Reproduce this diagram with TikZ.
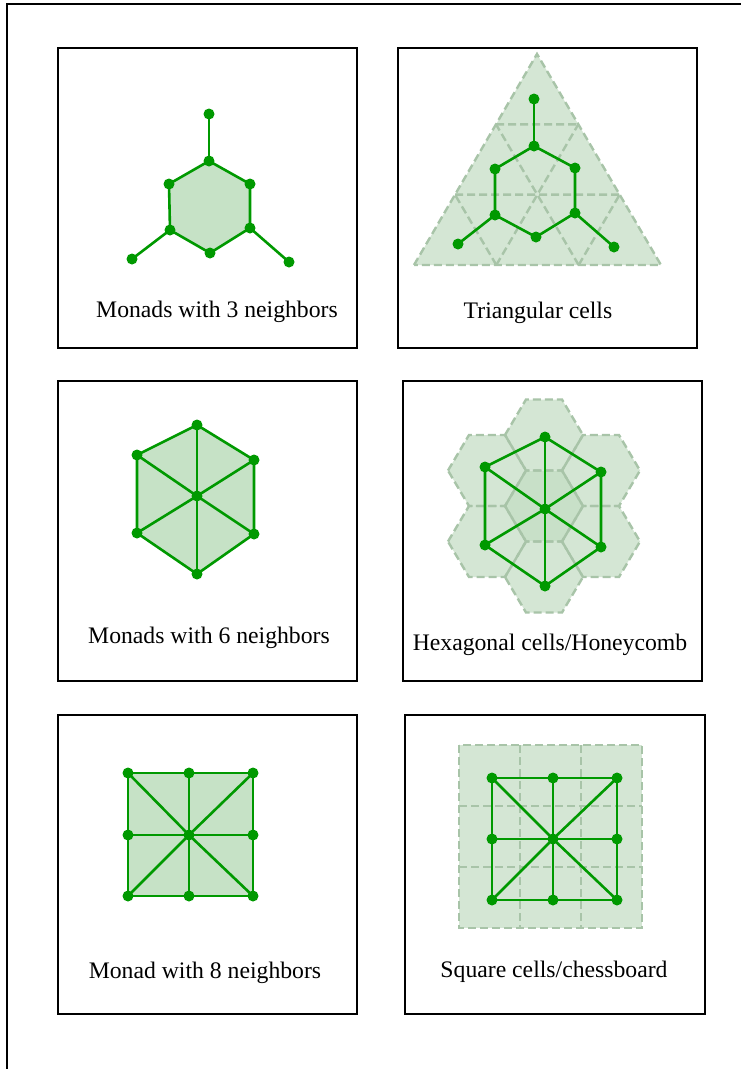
\documentclass[tikz,border=0pt]{standalone}
\usepackage{fontspec}
\setmainfont{Liberation Serif}
\usetikzlibrary{calc}
\definecolor{gline}{RGB}{0,153,0}
\definecolor{gfill}{RGB}{198,226,198}
\definecolor{cellfill}{RGB}{212,230,212}
\definecolor{cellmid}{RGB}{200,224,200}
\definecolor{celldash}{RGB}{168,196,168}
\begin{document}
\begin{tikzpicture}[x=1pt,y=-1pt,
  frame/.style={draw=black,line width=2pt},
  edge/.style={draw=gline,line width=2.6pt},
  dot/.style={circle,fill=gline,inner sep=0pt,minimum size=11pt},
  cell/.style={draw=celldash,line width=2.4pt,dash pattern=on 8pt off 4pt},
  lbl/.style={anchor=base,font=\fontsize{23.7}{28}\selectfont,inner sep=0pt}]
\useasboundingbox (0,0) rectangle (740,1069);
\fill[white] (0,0) rectangle (740,1069);
% outer frame
\draw[line width=2pt] (741,4) -- (7,4) -- (7,1070);
% boxes
\draw[frame] (58,48) rectangle (357,348);
\draw[frame] (398,48) rectangle (697,348);
\draw[frame] (58,381) rectangle (357,681);
\draw[frame] (403,381) rectangle (702,681);
\draw[frame] (58,715) rectangle (357,1014);
\draw[frame] (405,715) rectangle (705,1014);

% ---------- Box 1: monads with 3 neighbors
\coordinate (a1) at (209,161);
\coordinate (a2) at (250,184);
\coordinate (a3) at (250,228);
\coordinate (a4) at (210,253);
\coordinate (a5) at (170,230);
\coordinate (a6) at (169,184);
\coordinate (a7) at (209,114);
\coordinate (a8) at (132,259);
\coordinate (a9) at (289,262);
\fill[gfill] (a1) -- (a2) -- (a3) -- (a4) -- (a5) -- (a6) -- cycle;
\draw[edge] (a1) -- (a2) -- (a3) -- (a4) -- (a5) -- (a6) -- cycle;
\draw[edge] (a1) -- (a7);
\draw[edge] (a5) -- (a8);
\draw[edge] (a3) -- (a9);
\foreach \n in {a1,a2,a3,a4,a5,a6,a7,a8,a9} \node[dot] (\n d) at (\n) {};
\node[lbl] (l1) at (217,317) {Monads with 3 neighbors};

% ---------- Box 2: triangular cells
\coordinate (T1) at (414,265);
\coordinate (T2) at (537,54);
\coordinate (T3) at (661,265);
\coordinate (t12a) at ($(T1)!1/3!(T2)$);
\coordinate (t12b) at ($(T1)!2/3!(T2)$);
\coordinate (t23a) at ($(T2)!1/3!(T3)$);
\coordinate (t23b) at ($(T2)!2/3!(T3)$);
\coordinate (t13a) at ($(T1)!1/3!(T3)$);
\coordinate (t13b) at ($(T1)!2/3!(T3)$);
\fill[cellfill] (T1) -- (T2) -- (T3) -- cycle;
\draw[cell] (t12b) -- (t23a);
\draw[cell] (t12a) -- (t23b);
\draw[cell] (t13a) -- (t23a);
\draw[cell] (t13b) -- (t23b);
\draw[cell] (t13b) -- (t12b);
\draw[cell] (t13a) -- (t12a);
\draw[cell] (T1) -- (T2) -- (T3) -- cycle;
\coordinate (b1) at (534,146);
\coordinate (b2) at (575,168);
\coordinate (b3) at (575,213);
\coordinate (b4) at (536,237);
\coordinate (b5) at (495,215);
\coordinate (b6) at (495,169);
\coordinate (b7) at (534,99);
\coordinate (b8) at (458,244);
\coordinate (b9) at (614,247);
\draw[edge] (b1) -- (b2) -- (b3) -- (b4) -- (b5) -- (b6) -- cycle;
\draw[edge] (b1) -- (b7);
\draw[edge] (b5) -- (b8);
\draw[edge] (b3) -- (b9);
\foreach \n in {b1,b2,b3,b4,b5,b6,b7,b8,b9} \node[dot] (\n d) at (\n) {};
\node[lbl] (l2) at (538,318) {Triangular cells};

% ---------- Box 3: monads with 6 neighbors
\coordinate (c0) at (197,496);
\coordinate (c1) at (197,425);
\coordinate (c2) at (254,460);
\coordinate (c3) at (254,534);
\coordinate (c4) at (197,574);
\coordinate (c5) at (137,533);
\coordinate (c6) at (137,455);
\fill[gfill] (c1) -- (c2) -- (c3) -- (c4) -- (c5) -- (c6) -- cycle;
\draw[edge] (c1) -- (c2) -- (c3) -- (c4) -- (c5) -- (c6) -- cycle;
\foreach \n in {c1,c2,c3,c4,c5,c6} \draw[edge] (c0) -- (\n);
\foreach \n in {c0,c1,c2,c3,c4,c5,c6} \node[dot] (\n d) at (\n) {};
\node[lbl] (l3) at (209,643) {Monads with 6 neighbors};

% ---------- Box 4: honeycomb
\begin{scope}[shift={(544,506)}]
  \foreach \dx/\dy in {0/-71,0/71,-57/-35.5,57/-35.5,-57/35.5,57/35.5}
    \fill[cellfill,shift={(\dx,\dy)}] (-39,0) -- (-18,-35.5) -- (18,-35.5) -- (39,0) -- (18,35.5) -- (-18,35.5) -- cycle;
  \fill[cellmid] (-39,0) -- (-18,-35.5) -- (18,-35.5) -- (39,0) -- (18,35.5) -- (-18,35.5) -- cycle;
  \foreach \dx/\dy in {0/0,0/-71,0/71,-57/-35.5,57/-35.5,-57/35.5,57/35.5}
    \draw[cell,shift={(\dx,\dy)}] (-39,0) -- (-18,-35.5) -- (18,-35.5) -- (39,0) -- (18,35.5) -- (-18,35.5) -- cycle;
\end{scope}
\coordinate (d0) at (545,509);
\coordinate (d1) at (545,437);
\coordinate (d2) at (601,472);
\coordinate (d3) at (601,547);
\coordinate (d4) at (545,586);
\coordinate (d5) at (485,545);
\coordinate (d6) at (485,467);
\draw[edge] (d1) -- (d2) -- (d3) -- (d4) -- (d5) -- (d6) -- cycle;
\foreach \n in {d1,d2,d3,d4,d5,d6} \draw[edge] (d0) -- (\n);
\foreach \n in {d0,d1,d2,d3,d4,d5,d6} \node[dot] (\n d) at (\n) {};
\node[lbl] (l4) at (550,650) {Hexagonal cells/Honeycomb};

% ---------- Box 5: monad with 8 neighbors
\coordinate (e1) at (128,773);
\coordinate (e2) at (189,773);
\coordinate (e3) at (253,773);
\coordinate (e4) at (128,835);
\coordinate (e5) at (189,835);
\coordinate (e6) at (253,835);
\coordinate (e7) at (128,896);
\coordinate (e8) at (189,896);
\coordinate (e9) at (253,896);
\fill[gfill] (e1) -- (e2) -- (e3) -- (e6) -- (e9) -- (e8) -- (e7) -- (e4) -- cycle;
\draw[edge] (e1) -- (e2) -- (e3) -- (e6) -- (e9) -- (e8) -- (e7) -- (e4) -- cycle;
\draw[edge] (e4) -- (e5) -- (e6);
\draw[edge] (e2) -- (e5) -- (e8);
\draw[edge] (e1) -- (e5) -- (e9);
\draw[edge] (e3) -- (e5) -- (e7);
\foreach \n in {e1,e2,e3,e4,e5,e6,e7,e8,e9} \node[dot] (\n d) at (\n) {};
\node[lbl] (l5) at (205,978) {Monad with 8 neighbors};

% ---------- Box 6: square cells
\fill[cellfill] (459,745) rectangle (642,928);
\draw[cell] (520,745) -- (520,928);
\draw[cell] (581,745) -- (581,928);
\draw[cell] (459,806) -- (642,806);
\draw[cell] (459,867) -- (642,867);
\draw[cell] (459,745) rectangle (642,928);
\coordinate (f1) at (492,778);
\coordinate (f2) at (553,778);
\coordinate (f3) at (617,778);
\coordinate (f4) at (492,839);
\coordinate (f5) at (553,839);
\coordinate (f6) at (617,839);
\coordinate (f7) at (492,900);
\coordinate (f8) at (553,900);
\coordinate (f9) at (617,900);
\draw[edge] (f1) -- (f2) -- (f3) -- (f6) -- (f9) -- (f8) -- (f7) -- (f4) -- cycle;
\draw[edge] (f4) -- (f5) -- (f6);
\draw[edge] (f2) -- (f5) -- (f8);
\draw[edge] (f1) -- (f5) -- (f9);
\draw[edge] (f3) -- (f5) -- (f7);
\foreach \n in {f1,f2,f3,f4,f5,f6,f7,f8,f9} \node[dot] (\n d) at (\n) {};
\node[lbl] (l6) at (554,977) {Square cells/chessboard};
\end{tikzpicture}
\end{document}
